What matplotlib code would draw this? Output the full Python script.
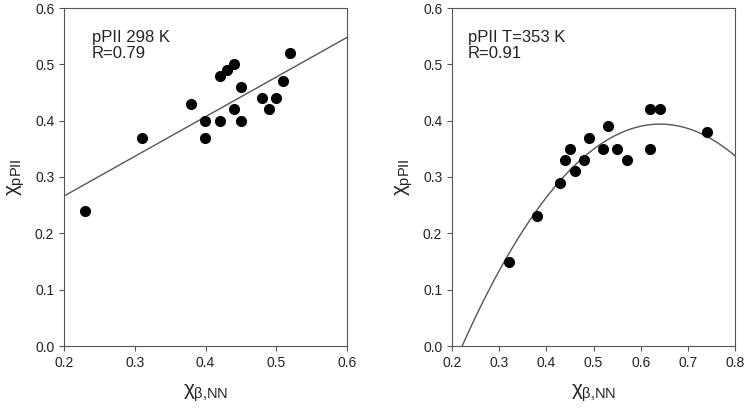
import numpy as np
import matplotlib
matplotlib.use("Agg")
import matplotlib.pyplot as plt

plt.rcParams['font.family'] = ['Liberation Sans', 'DejaVu Sans']
plt.rcParams['mathtext.fontset'] = 'custom'
plt.rcParams['mathtext.rm'] = 'Liberation Sans'
plt.rcParams['mathtext.it'] = 'Liberation Sans'

# left panel: 298 K
x_298 = [0.23, 0.31, 0.38, 0.40, 0.40, 0.42, 0.42, 0.43, 0.44, 0.44, 0.45, 0.45,
         0.48, 0.49, 0.50, 0.51, 0.52]
y_298 = [0.24, 0.37, 0.43, 0.40, 0.37, 0.48, 0.40, 0.49, 0.50, 0.42, 0.46, 0.40,
         0.44, 0.42, 0.44, 0.47, 0.52]

# right panel: 353 K
x_353 = [0.32, 0.38, 0.43, 0.44, 0.45, 0.46, 0.48, 0.49, 0.52, 0.53, 0.55, 0.57,
         0.62, 0.62, 0.64, 0.74]
y_353 = [0.15, 0.23, 0.29, 0.33, 0.35, 0.31, 0.33, 0.37, 0.35, 0.39, 0.35, 0.33,
         0.42, 0.35, 0.42, 0.38]

fig = plt.figure(figsize=(7.47, 4.16), dpi=100)
W, H = 747, 416
ax1 = fig.add_axes([64 / W, 1 - 346 / H, (347 - 64) / W, (346 - 8) / H])
ax2 = fig.add_axes([452 / W, 1 - 346 / H, (735 - 452) / W, (346 - 8) / H])

gray = '#555555'

# linear fit
p1 = np.polyfit(x_298, y_298, 1)
xl = np.linspace(0.2, 0.6, 50)
ax1.plot(xl, np.polyval(p1, xl), color=gray, lw=1)
ax1.plot(x_298, y_298, 'o', color='black', ms=7)
ax1.set_xlim(0.2, 0.6)
ax1.set_xticks(np.arange(0.2, 0.61, 0.1))
ax1.text(0.098, 0.935, 'pPII 298 K\nR=0.79', transform=ax1.transAxes,
         fontsize=12, va='top', linespacing=1.05, color='#222222')

# quadratic fit
p2 = np.polyfit(x_353, y_353, 2)
xq = np.linspace(0.2, 0.8, 200)
ax2.plot(xq, np.polyval(p2, xq), color=gray, lw=1)
ax2.plot(x_353, y_353, 'o', color='black', ms=7)
ax2.set_xlim(0.2, 0.8)
ax2.set_xticks(np.arange(0.2, 0.81, 0.1))
ax2.text(0.056, 0.935, 'pPII T=353 K\nR=0.91', transform=ax2.transAxes,
         fontsize=12, va='top', linespacing=1.05, color='#222222')

for ax in (ax1, ax2):
    ax.set_ylim(0, 0.6)
    ax.set_yticks(np.arange(0, 0.61, 0.1))
    ax.xaxis.set_major_formatter(matplotlib.ticker.FormatStrFormatter('%.1f'))
    ax.yaxis.set_major_formatter(matplotlib.ticker.FormatStrFormatter('%.1f'))
    ax.tick_params(direction='out', length=3.5, width=0.8, colors=gray,
                   labelcolor='#222222', labelsize=10)
    for s in ax.spines.values():
        s.set_color(gray)
        s.set_linewidth(0.8)
    ax.set_ylabel(r'$\chi_{\mathrm{pPII}}$', fontsize=15, labelpad=6, color='#222222')
    ax.set_xlabel(r'$\chi_{\beta{,}\mathrm{NN}}$', fontsize=15, labelpad=9, color='#222222')

fig.savefig('out.png', dpi=100)
